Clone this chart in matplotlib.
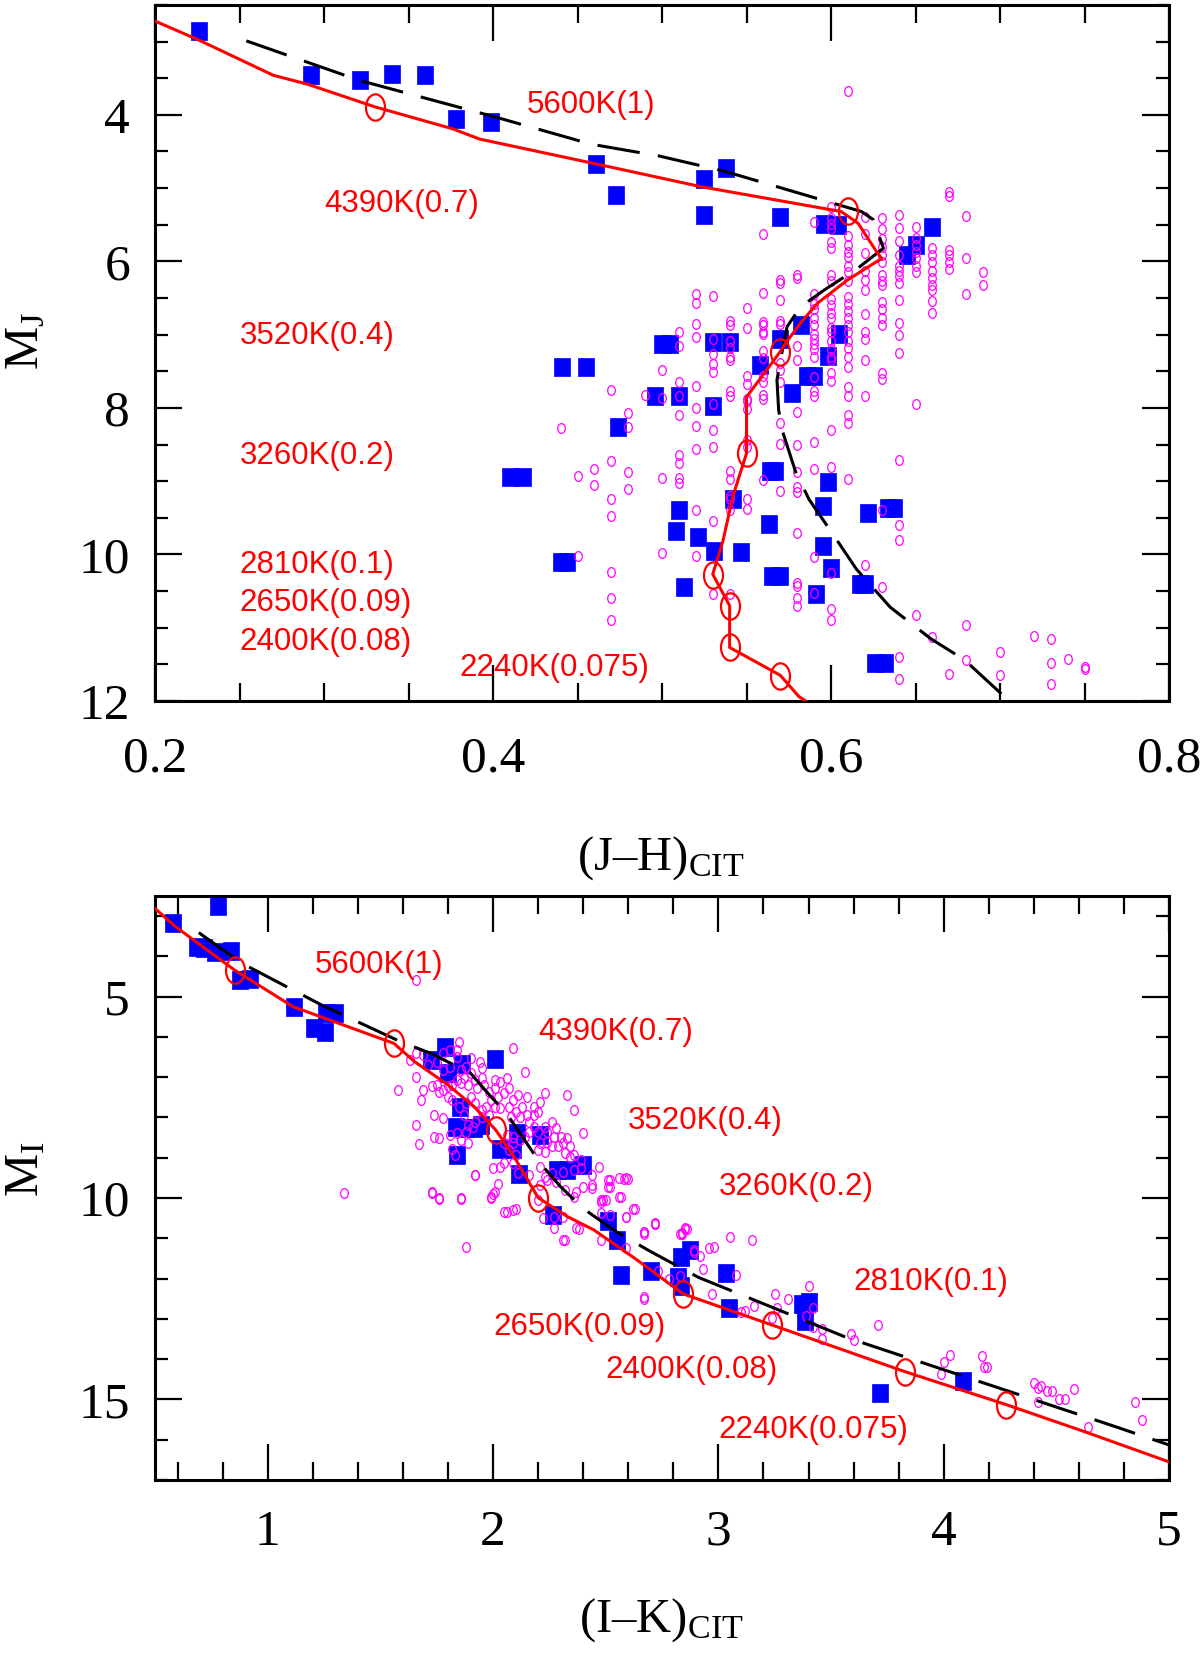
import numpy as np
import matplotlib
matplotlib.use("Agg")
import matplotlib.pyplot as plt
from matplotlib.path import Path
from matplotlib.ticker import MultipleLocator, FormatStrFormatter

plt.rcParams['font.family'] = ['Liberation Serif', 'DejaVu Serif']
plt.rcParams['mathtext.fontset'] = 'custom'
plt.rcParams['mathtext.rm'] = 'Liberation Serif'
plt.rcParams['mathtext.it'] = 'Liberation Serif:italic'

# ---------------- top panel: M_J vs (J-H) ----------------
jh_obs = [0.226, 0.292, 0.321, 0.340, 0.360, 0.378, 0.399, 0.461, 0.473, 0.525,
          0.538, 0.525, 0.570, 0.596, 0.604, 0.660, 0.645, 0.650, 0.500, 0.505,
          0.530, 0.540, 0.570, 0.582, 0.605, 0.558, 0.598, 0.586, 0.590, 0.441,
          0.455, 0.496, 0.510, 0.530, 0.577, 0.474, 0.410, 0.418, 0.564, 0.567,
          0.598, 0.542, 0.595, 0.622, 0.634, 0.637, 0.510, 0.508, 0.521, 0.531,
          0.563, 0.547, 0.595, 0.600, 0.440, 0.444, 0.513, 0.565, 0.570, 0.591,
          0.617, 0.620, 0.626, 0.632]
mj_obs = [2.85, 3.46, 3.53, 3.44, 3.46, 4.06, 4.10, 4.67, 5.10, 4.87,
          4.72, 5.37, 5.39, 5.49, 5.50, 5.53, 5.91, 5.77, 7.13, 7.13,
          7.10, 7.10, 7.06, 6.87, 6.99, 7.41, 7.29, 7.57, 7.57, 7.44,
          7.44, 7.84, 7.84, 7.98, 7.80, 8.26, 8.94, 8.94, 8.86, 8.86,
          9.01, 9.25, 9.34, 9.44, 9.37, 9.37, 9.39, 9.68, 9.76, 9.95,
          9.59, 9.96, 9.89, 10.18, 10.11, 10.11, 10.44, 10.29, 10.29, 10.54,
          10.41, 10.41, 11.48, 11.48]

# field stars, grouped by (J-H) column
jh_field_col = [0.44, 0.45, 0.46, 0.47, 0.48, 0.49, 0.50, 0.51, 0.52, 0.53, 0.54,
                0.55, 0.56, 0.57, 0.58, 0.59, 0.60, 0.61, 0.62, 0.63, 0.64, 0.65,
                0.66, 0.67, 0.68, 0.69, 0.70, 0.72, 0.73, 0.74, 0.75]
mj_field_col = [
    [8.27],
    [8.93, 10.02],
    [8.84, 9.05],
    [7.75, 8.73, 9.25, 9.48, 10.24, 10.60, 10.89],
    [8.07, 8.26, 8.87, 9.10],
    [7.82],
    [7.48, 7.86, 8.96, 9.98],
    [6.97, 7.15, 7.64, 7.84, 8.10, 8.64, 8.75, 8.95, 9.03],
    [6.45, 6.57, 6.86, 7.03, 7.70, 8.00, 8.25, 8.56, 9.40, 10.02],
    [6.47, 7.06, 7.27, 7.40, 7.51, 7.95, 8.30, 8.53, 9.54, 10.54],
    [6.82, 6.87, 7.08, 7.18, 7.30, 7.34, 7.77, 7.84, 8.86, 8.97, 9.20, 9.25, 9.39, 10.54],
    [6.64, 6.91, 7.57, 7.67, 7.88, 7.91, 8.02, 8.44, 8.53, 9.25, 9.38],
    [5.62, 6.43, 6.83, 6.87, 6.96, 6.99, 7.22, 7.32, 7.56, 7.65, 7.82, 7.88, 8.99],
    [6.26, 6.30, 6.53, 6.81, 6.85, 7.39, 7.48, 7.65, 8.20, 8.49, 9.13],
    [6.18, 6.22, 7.15, 7.34, 8.06, 8.50, 8.87, 9.08, 9.15, 9.71, 10.39, 10.43, 10.60, 10.70],
    [5.46, 6.44, 6.58, 6.65, 6.77, 6.87, 6.99, 7.06, 7.13, 7.20, 7.30, 7.58, 7.77, 7.84,
     8.46, 8.83, 10.03, 10.53],
    [5.26, 5.41, 5.49, 5.56, 5.73, 5.82, 6.18, 6.27, 6.51, 6.60, 6.70, 6.77, 6.91, 6.96,
     7.08, 7.20, 7.30, 7.34, 7.53, 7.63, 8.30, 8.80, 10.25, 10.75, 10.89],
    [3.67, 5.65, 5.77, 5.87, 5.94, 6.06, 6.15, 6.27, 6.49, 6.58, 6.68, 6.77, 6.87, 6.96,
     7.08, 7.18, 7.30, 7.44, 7.71, 7.84, 8.10, 8.20, 8.97],
    [5.40, 5.63, 5.89, 6.13, 6.25, 6.39, 6.72, 6.96, 7.06, 7.34, 7.84, 10.15],
    [5.41, 5.56, 5.70, 5.80, 5.91, 6.01, 6.18, 6.27, 6.32, 6.56, 6.65, 6.77, 6.87, 7.53,
     7.60, 9.39, 10.45],
    [5.37, 5.54, 5.72, 5.91, 6.06, 6.13, 6.20, 6.30, 6.53, 6.84, 7.01, 7.25, 8.71, 9.60,
     9.80, 11.40, 11.70],
    [5.53, 5.68, 5.77, 5.87, 5.96, 6.06, 6.15, 7.95, 10.82],
    [5.82, 5.91, 6.01, 6.13, 6.22, 6.32, 6.39, 6.54, 6.70, 11.13],
    [5.05, 5.11, 5.84, 5.91, 6.01, 6.10, 11.63],
    [5.38, 5.95, 6.44, 10.96, 11.44],
    [6.14, 6.32],
    [11.33, 11.65],
    [11.11],
    [11.16, 11.48, 11.77],
    [11.43],
    [11.53, 11.57],
]

# model isochrone (solid red) and mass points
jh_model = [0.200, 0.226, 0.270, 0.290, 0.330, 0.376, 0.392, 0.461, 0.523, 0.606,
            0.616, 0.627, 0.630, 0.610, 0.592, 0.582, 0.573, 0.570, 0.562, 0.550,
            0.550, 0.542, 0.536, 0.530, 0.540, 0.540, 0.570, 0.581, 0.585]
mj_model = [2.72, 2.98, 3.46, 3.58, 3.89, 4.19, 4.33, 4.67, 4.98, 5.32,
            5.48, 5.87, 5.96, 6.25, 6.57, 6.84, 7.12, 7.23, 7.48, 7.85,
            8.62, 9.20, 9.82, 10.27, 10.70, 11.27, 11.65, 11.94, 12.00]
jh_mass = [0.330, 0.610, 0.570, 0.550, 0.530, 0.540, 0.540, 0.570]
mj_mass = [3.89, 5.31, 7.24, 8.62, 10.28, 10.70, 11.27, 11.66]

# second model (dashed black)
jh_dash = [0.254, 0.321, 0.403, 0.458, 0.498, 0.537, 0.593, 0.618, 0.625, 0.631,
           0.616, 0.596, 0.582, 0.574, 0.570, 0.568, 0.569, 0.571, 0.579, 0.587,
           0.601, 0.615, 0.635, 0.659, 0.679, 0.703, 0.705]
mj_dash = [2.99, 3.53, 4.04, 4.40, 4.56, 4.77, 5.15, 5.32, 5.43, 5.82,
           6.09, 6.39, 6.62, 6.89, 7.35, 7.62, 8.03, 8.30, 8.87, 9.25,
           9.72, 10.20, 10.72, 11.15, 11.44, 11.95, 12.00]

labels = ['5600K(1)', '4390K(0.7)', '3520K(0.4)', '3260K(0.2)',
          '2810K(0.1)', '2650K(0.09)', '2400K(0.08)', '2240K(0.075)']
top_lab_x = [0.42, 0.30, 0.25, 0.25, 0.25, 0.25, 0.25, 0.38]
top_lab_y = [3.87, 5.21, 7.02, 8.65, 10.14, 10.66, 11.19, 11.55]

# ---------------- bottom panel: M_I vs (I-K) ----------------
ik_obs = [0.579, 0.779, 0.686, 0.716, 0.767, 0.838, 0.878, 0.922, 1.118, 1.206,
          1.253, 1.260, 1.300, 1.725, 1.786, 1.864, 1.800, 2.007, 1.854, 1.835,
          1.880, 1.916, 1.946, 1.842, 2.030, 2.090, 2.108, 2.210, 2.115, 2.285,
          2.330, 2.400, 2.265, 2.510, 2.550, 2.567, 2.700, 2.836, 2.874, 2.836,
          2.820, 3.034, 3.047, 3.370, 3.400, 3.385, 3.716, 4.084]
mi_obs = [3.16, 2.75, 3.76, 3.80, 3.88, 3.86, 4.59, 4.57, 5.25, 5.79,
          5.87, 5.41, 5.41, 6.57, 6.24, 6.66, 6.90, 6.56, 7.73, 8.23,
          8.27, 8.27, 8.19, 8.93, 8.77, 8.77, 8.39, 8.44, 9.40, 9.31,
          9.31, 9.18, 10.43, 10.56, 11.03, 11.92, 11.80, 11.47, 11.30, 12.18,
          11.96, 11.87, 12.72, 12.63, 12.59, 13.05, 14.84, 14.53]

ik_field = [1.85, 2.09, 2.14, 1.66, 1.69, 1.63, 1.71, 1.75, 1.78, 1.81, 1.84, 1.84,
            1.78, 1.81, 1.86, 1.88, 1.90, 1.94, 1.95, 1.90, 1.87, 1.84, 1.82, 1.80,
            1.78, 1.75, 1.73, 1.76, 1.80, 1.82, 1.66, 1.58, 1.69, 1.68, 1.86, 1.89,
            1.92, 1.95, 1.93, 1.96, 1.98, 2.01, 2.03, 2.06, 2.07, 2.05, 2.02, 2.01,
            1.99, 1.97, 1.95, 1.92, 1.90, 1.88, 1.85, 2.01, 1.98, 1.95, 1.92, 1.89,
            1.91, 1.87, 1.88, 1.84, 1.86, 1.89, 1.82, 1.83, 1.74, 1.78, 1.66, 1.74,
            1.76, 1.67, 1.81, 2.03, 2.07, 2.09, 2.11, 2.15, 2.13, 2.10, 2.08, 2.12,
            2.15, 2.16, 2.18, 2.20, 2.18, 2.20, 2.23, 2.24, 2.26, 2.28, 2.30, 2.27,
            2.24, 2.21, 2.20, 2.23, 2.26, 2.29, 2.31, 2.33, 2.34, 2.32, 2.34, 2.36,
            2.39, 2.40, 2.36, 2.33, 2.23, 2.21, 2.18, 2.16, 2.14, 2.12, 2.09, 2.09,
            2.06, 2.05, 2.07, 2.10, 2.09, 2.05, 2.03, 2.00, 2.02, 1.99, 2.01, 1.92,
            1.86, 1.76, 1.73, 2.11, 2.16, 2.21, 2.23, 2.26, 2.31, 2.36, 2.39, 2.44,
            2.47, 2.44, 2.44, 2.48, 2.50, 2.52, 2.51, 2.56, 2.59, 2.56, 2.62, 2.59,
            2.37, 2.36, 2.32, 2.40, 2.28, 2.24, 2.21, 2.06, 2.10, 2.22, 2.27, 2.31,
            2.27, 2.31, 2.37, 1.88, 2.48, 2.52, 2.67, 2.72, 2.84, 2.85, 2.89, 2.59,
            2.48, 2.20,
            2.67, 2.72, 2.84, 2.86, 2.89, 2.92, 2.93, 2.96, 2.98, 3.05, 3.15, 2.73,
            2.78, 2.83, 2.97, 3.08, 2.67, 3.10, 3.12, 3.16, 3.25, 3.26, 3.24, 3.31,
            3.40, 3.39, 3.42, 3.42, 3.46, 3.46, 3.59, 3.60, 3.71, 4.00, 4.03, 3.99,
            4.17, 4.19, 4.18, 4.40, 4.42, 4.43, 4.46, 4.48, 4.51, 4.54, 4.58, 4.42,
            4.64, 4.85, 4.88,
            1.66, 1.34, 1.73, 1.76, 1.86, 1.92, 1.99, 2.00, 2.05, 2.09, 2.32, 2.38,
            2.48, 2.49, 2.57, 2.63, 2.67, 2.72, 2.67, 2.83, 2.85, 2.58, 2.60, 2.51,
            2.52, 2.59]
mi_field = [6.12, 6.28, 6.86, 6.41, 6.45, 6.57, 6.70, 6.61, 6.41, 6.32, 6.32, 6.49,
            6.82, 6.74, 6.82, 6.74, 6.53, 6.61, 6.78, 6.90, 7.03, 7.07, 7.19, 7.23,
            7.32, 7.19, 7.23, 7.36, 7.48, 7.57, 6.99, 7.32, 7.32, 7.57, 7.15, 7.19,
            7.07, 7.03, 7.28, 7.19, 7.36, 7.07, 7.11, 7.03, 7.28, 7.40, 7.48, 7.28,
            7.57, 7.73, 7.81, 7.65, 7.48, 7.65, 7.73, 7.73, 7.94, 7.98, 8.10, 8.19,
            8.23, 7.94, 8.35, 8.39, 8.56, 8.64, 8.77, 8.93, 7.94, 8.02, 8.19, 8.48,
            8.52, 8.66, 8.44, 7.77, 7.73, 7.57, 7.44, 7.48, 7.73, 7.86, 7.98, 7.98,
            7.94, 8.10, 7.94, 7.86, 8.23, 8.35, 8.23, 8.35, 8.10, 8.27, 8.48, 8.48,
            8.60, 8.64, 8.81, 8.85, 8.72, 8.72, 8.64, 8.52, 8.72, 8.89, 8.97, 8.93,
            9.06, 8.39, 7.81, 7.44, 7.38, 7.61, 7.73, 8.35, 8.48, 8.56, 8.48, 8.64,
            8.44, 8.64, 8.81, 8.93, 9.14, 9.14, 9.22, 9.26, 9.64, 10.01, 9.84, 9.43,
            10.01, 10.01, 9.84, 9.39, 9.43, 9.22, 9.47, 9.39, 9.35, 9.30, 9.26, 9.43,
            9.22, 9.68, 9.76, 10.05, 10.05, 9.55, 9.72, 9.51, 9.51, 9.97, 10.26, 10.46,
            9.84, 9.97, 9.80, 9.72, 9.59, 9.55, 9.68, 10.34, 10.26, 10.50, 10.46, 10.46,
            10.75, 11.04, 10.75, 11.21, 10.38, 10.42, 10.84, 10.63, 10.88, 10.75, 11.29, 11.25,
            11.04, 10.05,
            10.89, 10.65, 10.90, 10.76, 11.34, 11.45, 11.76, 11.24, 11.22, 10.97, 11.04, 11.82,
            12.01, 11.93, 12.38, 11.90, 12.51, 12.82, 12.81, 12.67, 12.38, 12.73, 12.97, 12.51,
            12.18, 12.93, 12.73, 13.20, 13.26, 13.51, 13.38, 13.53, 13.15, 14.06, 13.90, 14.38,
            13.92, 14.20, 14.20, 14.59, 14.71, 14.67, 14.79, 14.78, 15.00, 15.00, 14.75, 15.06,
            15.69, 15.06, 15.50,
            4.59, 9.87, 9.88, 10.02, 10.02, 9.44, 9.98, 9.89, 10.35, 10.29, 11.05, 10.76,
            10.10, 10.06, 9.98, 10.26, 10.84, 10.64, 12.46, 10.89, 10.76, 9.52, 9.52, 9.56,
            9.73, 10.47]

ik_model = [0.500, 0.590, 0.853, 1.113, 1.560, 1.651, 1.800, 1.916, 2.012, 2.093,
            2.200, 2.330, 2.447, 2.630, 2.844, 3.237, 3.828, 4.278, 4.620, 5.000]
mi_model = [2.81, 3.26, 4.34, 5.25, 6.16, 6.61, 7.19, 7.73, 8.31, 8.97,
            9.99, 10.46, 10.79, 11.50, 12.38, 13.15, 14.31, 15.13, 15.79, 16.55]
ik_mass = [0.853, 1.560, 2.015, 2.200, 2.844, 3.237, 3.828, 4.278]
mi_mass = [4.34, 6.16, 8.31, 10.00, 12.38, 13.15, 14.31, 15.13]

ik_dash = [0.694, 0.885, 1.240, 1.590, 1.725, 1.900, 1.990, 2.060, 2.140, 2.210,
           2.300, 2.400, 2.550, 2.700, 2.912, 3.568, 4.759, 5.000]
mi_dash = [3.41, 4.17, 5.21, 6.12, 6.41, 6.90, 7.48, 7.90, 8.56, 9.14,
           9.72, 10.26, 10.85, 11.33, 11.97, 13.46, 15.67, 16.13]

bot_lab_x = [1.21, 2.20, 2.60, 3.00, 3.60, 2.00, 2.50, 3.00]
bot_lab_y = [4.21, 5.88, 8.08, 9.73, 12.09, 13.20, 14.28, 15.75]

# ---------------- markers (tall ellipses / rectangles like the original) ----
circ = Path.unit_circle()
ell_big = Path(circ.vertices * [0.72, 1.0], circ.codes)
ell_small = Path(circ.vertices * [0.78, 1.0], circ.codes)
rect = [(-0.42, -0.5), (0.42, -0.5), (0.42, 0.5), (-0.42, 0.5), (-0.42, -0.5)]

RED = '#ff0000'
BLUE = '#0000ff'
MAG = '#ff00ff'


def draw_panel(ax, xo, yo, xf, yf, xm, ym, xc, yc, xd, yd, lx, ly):
    ax.plot(xo, yo, linestyle='none', marker=rect, ms=13, mfc=BLUE, mec=BLUE,
            mew=0.5, zorder=2)
    ax.plot(xf, yf, linestyle='none', marker=ell_small, ms=7, mfc='none',
            mec=MAG, mew=0.9, zorder=3)
    ax.plot(xd, yd, color='black', lw=2.2, dashes=(14, 6), zorder=4)
    ax.plot(xm, ym, color=RED, lw=2.2, zorder=5)
    ax.plot(xc, yc, linestyle='none', marker=ell_big, ms=19, mfc='none',
            mec=RED, mew=1.6, zorder=6)
    for t, x, y in zip(labels, lx, ly):
        ax.text(x, y, t, color=RED, fontsize=22.5, family='Liberation Sans',
                ha='left', va='center', zorder=7)
    for s in ax.spines.values():
        s.set_linewidth(2.2)
    ax.tick_params(which='both', direction='in', top=True, right=True, width=1.6)
    ax.tick_params(axis='x', which='major', length=26)
    ax.tick_params(axis='x', which='minor', length=13)
    ax.tick_params(axis='y', which='major', length=19.5, pad=18)
    ax.tick_params(axis='y', which='minor', length=9.5)
    ax.tick_params(labelsize=37)


fig = plt.figure(figsize=(12, 16.54), dpi=100)

ax1 = fig.add_axes([0.1292, 0.5762, 0.845, 0.4208])
jh_field = [x for x, col in zip(jh_field_col, mj_field_col) for _ in col]
mj_field = [y for col in mj_field_col for y in col]
draw_panel(ax1, jh_obs, mj_obs, jh_field, mj_field, jh_model, mj_model,
           jh_mass, mj_mass, jh_dash, mj_dash, top_lab_x, top_lab_y)
ax1.set_xlim(0.2, 0.8)
ax1.set_ylim(12, 2.5)
ax1.xaxis.set_major_locator(MultipleLocator(0.2))
ax1.xaxis.set_minor_locator(MultipleLocator(0.05))
ax1.xaxis.set_major_formatter(FormatStrFormatter('%.1f'))
ax1.yaxis.set_major_locator(MultipleLocator(2))
ax1.yaxis.set_minor_locator(MultipleLocator(0.5))
ax1.tick_params(axis='x', pad=25)

ax2 = fig.add_axes([0.1292, 0.1052, 0.845, 0.3531])
draw_panel(ax2, ik_obs, mi_obs, ik_field, mi_field, ik_model, mi_model,
           ik_mass, mi_mass, ik_dash, mi_dash, bot_lab_x, bot_lab_y)
ax2.set_xlim(0.5, 5)
ax2.set_ylim(17, 2.5)
ax2.xaxis.set_major_locator(MultipleLocator(1))
ax2.xaxis.set_minor_locator(MultipleLocator(0.2))
ax2.yaxis.set_major_locator(MultipleLocator(5))
ax2.yaxis.set_minor_locator(MultipleLocator(1))
ax2.tick_params(axis='x', pad=21)

fig.text(0.551, 0.474, r'(J–H)$_{\rm CIT}$', fontsize=35, ha='center', va='baseline')
fig.text(0.551, 0.0133, r'(I–K)$_{\rm CIT}$', fontsize=35, ha='center', va='baseline')
fig.text(0.022, 0.794, r'M$_{\rm J}$', fontsize=35, rotation=90, ha='center', va='center')
fig.text(0.022, 0.293, r'M$_{\rm I}$', fontsize=35, rotation=90, ha='center', va='center')

fig.savefig('out.png', dpi=100)
